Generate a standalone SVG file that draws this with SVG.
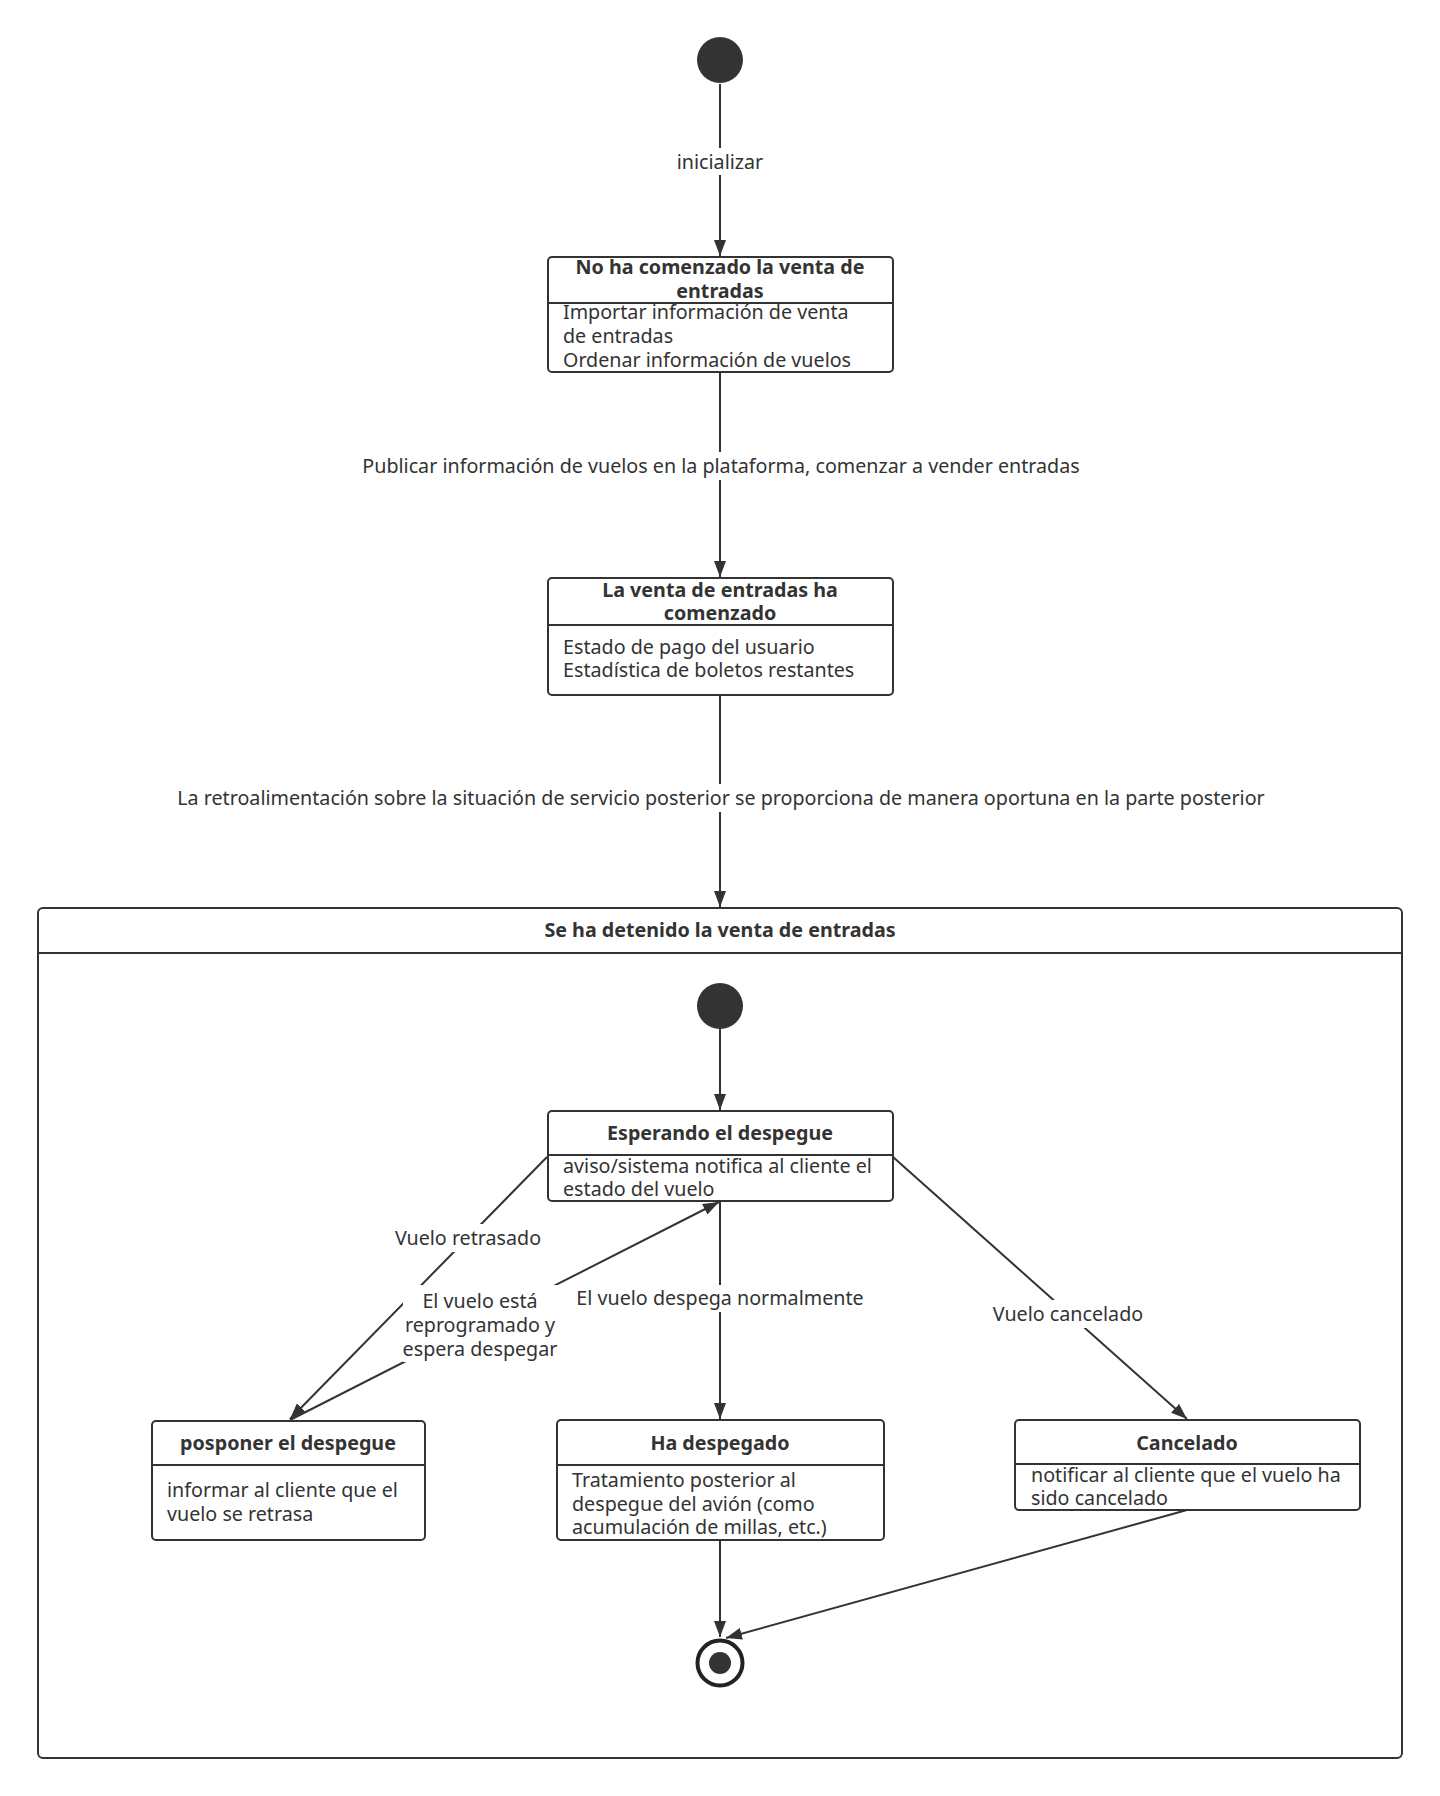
<svg xmlns="http://www.w3.org/2000/svg" width="1440" height="1796" viewBox="0 0 1440 1796">
<defs>
<marker id="arr" markerUnits="userSpaceOnUse" markerWidth="16" markerHeight="12" refX="16" refY="6" orient="auto">
<path d="M0,0 L16,6 L0,12 z" fill="#333"/>
</marker>
<style>
.box{fill:#fff;stroke:#333;stroke-width:2}
.div{stroke:#333;stroke-width:2}
.t{font-family:"Noto Sans","Open Sans",sans-serif;font-size:19.7px;fill:#333}
.b{font-weight:bold}
.c{text-anchor:middle}
.ln{fill:none;stroke:#333;stroke-width:2}
.lb{fill:#fff}
</style>
</defs>
<rect width="1440" height="1796" fill="#fff"/>

<g id="composite">
<rect class="box" x="38" y="908" width="1364" height="850" rx="5"/>
<line class="div" x1="38" y1="953" x2="1402" y2="953"/>
<text class="t b c" x="720" y="937">Se ha detenido la venta de entradas</text>
</g>

<g id="connectors">
<line class="ln" x1="720" y1="84" x2="720" y2="256" marker-end="url(#arr)"/>
<line class="ln" x1="720" y1="372" x2="720" y2="577" marker-end="url(#arr)"/>
<line class="ln" x1="720" y1="695" x2="720" y2="907" marker-end="url(#arr)"/>
<line class="ln" x1="720" y1="1029" x2="720" y2="1110" marker-end="url(#arr)"/>
<line class="ln" x1="547" y1="1157" x2="290" y2="1419" marker-end="url(#arr)"/>
<line class="ln" x1="290" y1="1420" x2="719" y2="1202" marker-end="url(#arr)"/>
<line class="ln" x1="720" y1="1201" x2="720" y2="1419" marker-end="url(#arr)"/>
<line class="ln" x1="893" y1="1157" x2="1187" y2="1419" marker-end="url(#arr)"/>
<line class="ln" x1="720" y1="1540" x2="720" y2="1637" marker-end="url(#arr)"/>
<line class="ln" x1="1187" y1="1510" x2="726" y2="1638" marker-end="url(#arr)"/>
<rect class="lb" x="672" y="148" width="96" height="27"/>
<text class="t c" x="720" y="169">inicializar</text>
<rect class="lb" x="359" y="452" width="724" height="28"/>
<text class="t c" x="721" y="473">Publicar información de vuelos en la plataforma, comenzar a vender entradas</text>
<rect class="lb" x="171" y="784" width="1100" height="28"/>
<text class="t c" x="721" y="805">La retroalimentación sobre la situación de servicio posterior se proporciona de manera oportuna en la parte posterior</text>
<rect class="lb" x="394" y="1224" width="150" height="28"/>
<text class="t c" x="468" y="1245">Vuelo retrasado</text>
<rect class="lb" x="403" y="1285" width="155" height="77"/>
<text class="t c" x="480" y="1308">El vuelo está</text>
<text class="t c" x="480" y="1332">reprogramado y</text>
<text class="t c" x="480" y="1356">espera despegar</text>
<rect class="lb" x="574" y="1285" width="294" height="27"/>
<text class="t c" x="720" y="1305">El vuelo despega normalmente</text>
<rect class="lb" x="990" y="1300" width="156" height="28"/>
<text class="t c" x="1068" y="1321">Vuelo cancelado</text>
</g>

<g id="start1">
<circle cx="720" cy="60" r="23" fill="#333"/>
</g>

<g id="state-no-comenzado">
<rect class="box" x="548" y="257" width="345" height="115" rx="4"/>
<line class="div" x1="548" y1="303" x2="893" y2="303"/>
<text class="t b c" x="720" y="274">No ha comenzado la venta de</text>
<text class="t b c" x="720" y="298">entradas</text>
<text class="t" x="563" y="319">Importar información de venta</text>
<text class="t" x="563" y="343">de entradas</text>
<text class="t" x="563" y="367">Ordenar información de vuelos</text>
</g>

<g id="state-comenzado">
<rect class="box" x="548" y="578" width="345" height="117" rx="4"/>
<line class="div" x1="548" y1="625" x2="893" y2="625"/>
<text class="t b c" x="720" y="597">La venta de entradas ha</text>
<text class="t b c" x="720" y="620">comenzado</text>
<text class="t" x="563" y="654">Estado de pago del usuario</text>
<text class="t" x="563" y="677">Estadística de boletos restantes</text>
</g>

<g id="start2">
<circle cx="720" cy="1006" r="23" fill="#333"/>
</g>

<g id="state-esperando">
<rect class="box" x="548" y="1111" width="345" height="90" rx="4"/>
<line class="div" x1="548" y1="1155" x2="893" y2="1155"/>
<text class="t b c" x="720" y="1140">Esperando el despegue</text>
<text class="t" x="563" y="1173">aviso/sistema notifica al cliente el</text>
<text class="t" x="563" y="1196">estado del vuelo</text>
</g>

<g id="state-posponer">
<rect class="box" x="152" y="1421" width="273" height="119" rx="4"/>
<line class="div" x1="152" y1="1465" x2="425" y2="1465"/>
<text class="t b c" x="288" y="1450">posponer el despegue</text>
<text class="t" x="167" y="1497">informar al cliente que el</text>
<text class="t" x="167" y="1521">vuelo se retrasa</text>
</g>

<g id="state-despegado">
<rect class="box" x="557" y="1420" width="327" height="120" rx="4"/>
<line class="div" x1="557" y1="1465" x2="884" y2="1465"/>
<text class="t b c" x="720" y="1450">Ha despegado</text>
<text class="t" x="572" y="1487">Tratamiento posterior al</text>
<text class="t" x="572" y="1511">despegue del avión (como</text>
<text class="t" x="572" y="1534">acumulación de millas, etc.)</text>
</g>

<g id="state-cancelado">
<rect class="box" x="1015" y="1420" width="345" height="90" rx="4"/>
<line class="div" x1="1015" y1="1464" x2="1360" y2="1464"/>
<text class="t b c" x="1187" y="1450">Cancelado</text>
<text class="t" x="1031" y="1482">notificar al cliente que el vuelo ha</text>
<text class="t" x="1031" y="1505">sido cancelado</text>
</g>

<g id="final">
<circle cx="720" cy="1663" r="22.5" fill="#fff" stroke="#222" stroke-width="4"/>
<circle cx="720" cy="1663" r="11" fill="#333"/>
</g>
</svg>
